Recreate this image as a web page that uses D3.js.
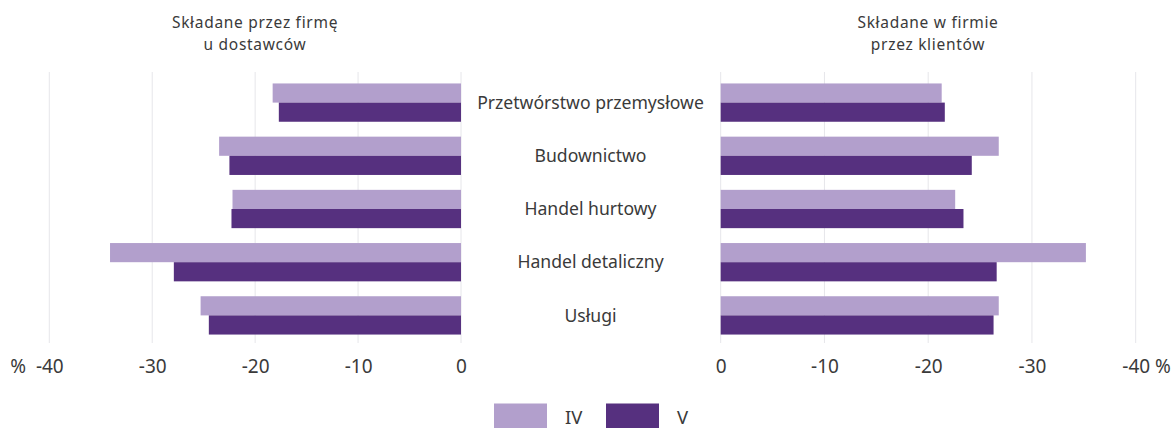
<!DOCTYPE html>
<html><head><meta charset="utf-8">
<script src="https://cdn.jsdelivr.net/npm/d3@7"></script>
<style>
body{margin:0;background:#fff;}
text{font-family:"Noto Sans",sans-serif;fill:#3a3a3a;}
</style></head>
<body><svg id="c" width="1175" height="428"></svg>
<script>
const categories = ["Przetwórstwo przemysłowe","Budownictwo","Handel hurtowy","Handel detaliczny","Usługi"];
const seriesNames = ["IV","V"];
const leftIV  = [-18.3,-23.5,-22.2,-34.1,-25.3];
const leftV   = [-17.7,-22.5,-22.3,-27.9,-24.5];
const rightIV = [-21.3,-26.8,-22.6,-35.2,-26.8];
const rightV  = [-21.6,-24.2,-23.4,-26.6,-26.3];
const ticks = [-40,-30,-20,-10,0];
const titleLeft = ["Składane przez firmę","u dostawców"];
const titleRight = ["Składane w firmie","przez klientów"];
const colors = {"IV":"#b29fcc","V":"#56307f"};

const svg = d3.select("#c");
const y = d3.scaleBand().domain(categories).range([76,342]).paddingInner(0.28).paddingOuter(0.14);
const ySub = d3.scaleBand().domain(seriesNames).range([0,y.bandwidth()]);
const xL = d3.scaleLinear().domain([-40,0]).range([49.3,461]);
const xR = d3.scaleLinear().domain([0,-40]).range([720.7,1135.7]);

function panel(x, iv, v){
  const g = svg.append("g");
  g.selectAll("line.grid").data(ticks).join("line")
    .attr("x1",d=>x(d)).attr("x2",d=>x(d)).attr("y1",72).attr("y2",343)
    .attr("stroke","#e6e6ea").attr("stroke-width",1);
  const data = [];
  categories.forEach((c,i)=>{data.push({c,s:"IV",v:iv[i]});data.push({c,s:"V",v:v[i]});});
  g.selectAll("rect.bar").data(data).join("rect")
    .attr("x",d=>Math.min(x(d.v),x(0))).attr("width",d=>Math.abs(x(d.v)-x(0)))
    .attr("y",d=>y(d.c)+ySub(d.s)).attr("height",ySub.bandwidth())
    .attr("fill",d=>colors[d.s]);
  const ax = g.append("g").attr("transform","translate(0,343)")
    .call(d3.axisBottom(x).tickValues(ticks).tickFormat(d=>String(d)).tickSize(0));
  ax.select(".domain").remove();
  ax.selectAll("text").attr("y",30).attr("dy",null)
    .style("font-family","'Noto Sans',sans-serif").style("font-size","19px").attr("fill","#3a3a3a");
  return g;
}
panel(xL,leftIV,leftV);
panel(xR,rightIV,rightV);

svg.append("text").attr("x",26).attr("y",373).attr("text-anchor","end").style("font-size","19px").text("%");
svg.append("text").attr("x",1155).attr("y",373).attr("text-anchor","start").style("font-size","19px").text("%");

svg.selectAll("text.cat").data(categories).join("text").attr("class","cat")
  .attr("x",590.5).attr("y",d=>y(d)+y.bandwidth()/2).attr("dy","0.35em")
  .attr("text-anchor","middle").style("font-size","17.6px").text(d=>d);

function title(lines,cx){
  svg.append("g").selectAll("text").data(lines).join("text")
    .attr("x",cx).attr("y",(d,i)=>28+i*22).attr("text-anchor","middle")
    .style("font-size","15.5px").style("letter-spacing","0.7px").text(d=>d);
}
title(titleLeft,255);
title(titleRight,928);

const leg = svg.append("g");
const lx = d3.scaleOrdinal().domain(seriesNames).range([494,606]);
leg.selectAll("rect").data(seriesNames).join("rect")
  .attr("x",d=>lx(d)).attr("y",403.5).attr("width",53).attr("height",28).attr("fill",d=>colors[d]);
leg.selectAll("text").data(seriesNames).join("text")
  .attr("x",d=>lx(d)+71).attr("y",424).style("font-size","18.5px").text(d=>d);
</script></body></html>
